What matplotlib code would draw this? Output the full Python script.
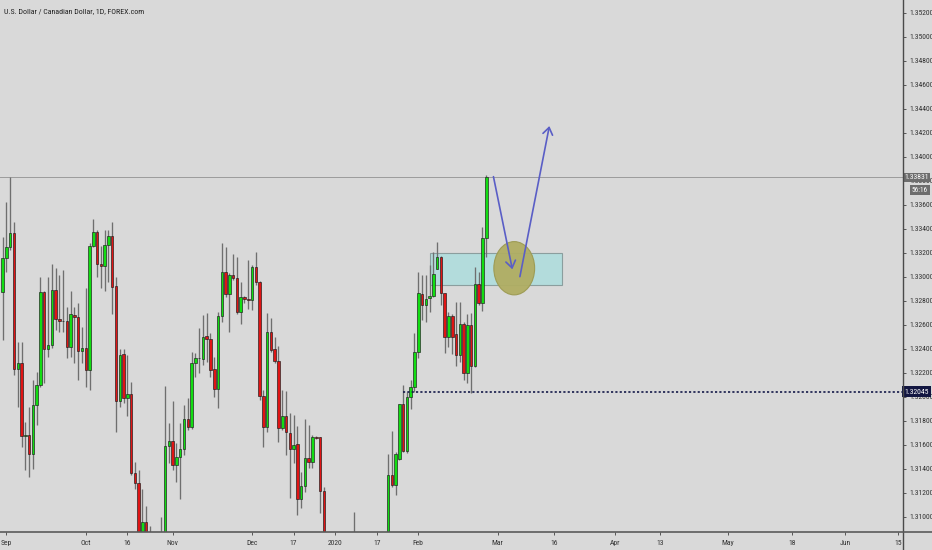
import matplotlib
matplotlib.use("Agg")
import matplotlib.pyplot as plt
import matplotlib.patches as mpatches
import matplotlib.transforms as mtransforms
from matplotlib import font_manager
from matplotlib.lines import Line2D
import numpy as np

# ---------------- data ----------------
title = "U.S. Dollar / Canadian Dollar, 1D, FOREX.com"

opens = [1.32878, 1.33156, 1.33253, 1.33364, 1.32231, 1.32281, 1.31675, 1.31681, 1.31522, 1.31931,
         1.32100, 1.32878, 1.32400, 1.32433, 1.32889, 1.32653, 1.32636, 1.32636, 1.32419, 1.32683,
         1.32669, 1.32383, 1.32406, 1.32225, 1.33258, 1.33378, 1.33106, 1.33089, 1.33264, 1.33339,
         1.32928, 1.31964, 1.32356, 1.31994, 1.32028, 1.31364, 1.31286, 1.30830, 1.30961, 1.30700,
         1.30560, 1.30480, 1.30620, 1.30700, 1.31592, 1.31636, 1.31431, 1.31503, 1.31564, 1.31819,
         1.31747, 1.32281, 1.32328, 1.32314, 1.32508, 1.32481, 1.32231, 1.32064, 1.32678, 1.33039,
         1.32858, 1.33014, 1.32989, 1.32711, 1.32831, 1.32819, 1.32808, 1.33083, 1.32961, 1.32008,
         1.31747, 1.32539, 1.32397, 1.32300, 1.31739, 1.31842, 1.31697, 1.31564, 1.31608, 1.31147,
         1.31258, 1.31489, 1.31461, 1.31664, 1.31664, 1.31219, 1.30700, 1.30450, 1.30200, 1.29900,
         1.30000, 1.29750, 1.30100, 1.30400, 1.30550, 1.30500, 1.30600, 1.30550, 1.30600, 1.30500,
         1.30650, 1.30600, 1.30700, 1.31348, 1.31264, 1.31481, 1.31939, 1.31550, 1.32000, 1.32083,
         1.32378, 1.32858, 1.32767, 1.32822, 1.32844, 1.33067, 1.33169, 1.32864, 1.32497, 1.32678,
         1.32522, 1.32350, 1.32608, 1.32203, 1.32600, 1.32261, 1.32939, 1.32786, 1.33328]
highs = [1.33336, 1.33622, 1.33833, 1.33456, 1.32461, 1.32461, 1.31794, 1.31919, 1.32142, 1.32211,
         1.33003, 1.32886, 1.33003, 1.33106, 1.33072, 1.33017, 1.33058, 1.32753, 1.32886, 1.32753,
         1.32786, 1.32586, 1.32906, 1.33281, 1.33481, 1.33392, 1.33258, 1.33392, 1.33392, 1.33461,
         1.33003, 1.32397, 1.32397, 1.32350, 1.32122, 1.31458, 1.31392, 1.31231, 1.31092, 1.30925,
         1.30700, 1.30750, 1.31003, 1.32092, 1.31781, 1.31967, 1.31614, 1.31781, 1.31931, 1.31994,
         1.32375, 1.32369, 1.32572, 1.32683, 1.32703, 1.32531, 1.32336, 1.32711, 1.33281, 1.33253,
         1.33031, 1.33189, 1.33164, 1.32961, 1.32842, 1.33142, 1.33100, 1.33211, 1.32969, 1.32058,
         1.32703, 1.32656, 1.32497, 1.32425, 1.32058, 1.32053, 1.31869, 1.31850, 1.31758, 1.31378,
         1.31814, 1.31767, 1.31683, 1.31675, 1.31669, 1.31247, 1.30800, 1.30500, 1.30250, 1.30150,
         1.30050, 1.30300, 1.30600, 1.31044, 1.30700, 1.30750, 1.30800, 1.30800, 1.30700, 1.30800,
         1.30800, 1.30850, 1.31528, 1.31714, 1.31542, 1.31944, 1.32097, 1.32040, 1.32142, 1.32536,
         1.33044, 1.33017, 1.33017, 1.33100, 1.33211, 1.33294, 1.33175, 1.32869, 1.32706, 1.32692,
         1.32789, 1.32789, 1.32628, 1.32692, 1.32697, 1.33081, 1.33044, 1.33419, 1.33850]
lows = [1.32475, 1.33044, 1.33225, 1.32183, 1.31914, 1.31586, 1.31392, 1.31336, 1.31397, 1.31767,
        1.32086, 1.32114, 1.32336, 1.32406, 1.32558, 1.32544, 1.32544, 1.32322, 1.32336, 1.32281,
        1.32142, 1.32281, 1.32086, 1.32058, 1.33253, 1.32997, 1.32906, 1.32886, 1.32961, 1.32692,
        1.31706, 1.31919, 1.31947, 1.31844, 1.31350, 1.31231, 1.30760, 1.30790, 1.30650, 1.30500,
        1.30420, 1.30420, 1.30560, 1.30650, 1.31447, 1.31392, 1.31294, 1.31147, 1.31517, 1.31725,
        1.31731, 1.32169, 1.32197, 1.32267, 1.32294, 1.32169, 1.32003, 1.31906, 1.32628, 1.32836,
        1.32544, 1.32975, 1.32692, 1.32608, 1.32781, 1.32731, 1.32725, 1.32933, 1.31975, 1.31586,
        1.31711, 1.32378, 1.32281, 1.31628, 1.31725, 1.31517, 1.31156, 1.31447, 1.31017, 1.31072,
        1.31211, 1.31406, 1.31406, 1.31650, 1.31031, 1.30650, 1.30400, 1.30100, 1.29850, 1.29700,
        1.29600, 1.29700, 1.30000, 1.30350, 1.30400, 1.30450, 1.30500, 1.30450, 1.30400, 1.30450,
        1.30500, 1.30550, 1.30650, 1.31250, 1.31181, 1.31475, 1.31542, 1.31530, 1.31903, 1.32042,
        1.32322, 1.32642, 1.32628, 1.32711, 1.32836, 1.33064, 1.32767, 1.32364, 1.32419, 1.32358,
        1.32258, 1.32294, 1.32142, 1.32119, 1.32031, 1.32253, 1.32767, 1.32719, 1.33169]
closes = [1.33156, 1.33253, 1.33364, 1.32231, 1.32281, 1.31675, 1.31681, 1.31522, 1.31931, 1.32100,
          1.32872, 1.32400, 1.32433, 1.32889, 1.32653, 1.32636, 1.32631, 1.32419, 1.32689, 1.32664,
          1.32383, 1.32406, 1.32225, 1.33258, 1.33378, 1.33106, 1.33089, 1.33264, 1.33344, 1.32919,
          1.31964, 1.32350, 1.31994, 1.32028, 1.31364, 1.31286, 1.30820, 1.30961, 1.30700, 1.30560,
          1.30480, 1.30620, 1.30700, 1.31592, 1.31636, 1.31431, 1.31503, 1.31564, 1.31819, 1.31747,
          1.32281, 1.32328, 1.32322, 1.32503, 1.32481, 1.32225, 1.32064, 1.32678, 1.33039, 1.32858,
          1.33014, 1.32989, 1.32711, 1.32831, 1.32819, 1.32808, 1.33083, 1.32956, 1.32008, 1.31747,
          1.32539, 1.32392, 1.32300, 1.31739, 1.31844, 1.31711, 1.31564, 1.31600, 1.31147, 1.31258,
          1.31489, 1.31461, 1.31664, 1.31661, 1.31219, 1.30700, 1.30450, 1.30200, 1.29900, 1.30000,
          1.29750, 1.30100, 1.30400, 1.30550, 1.30500, 1.30600, 1.30550, 1.30600, 1.30500, 1.30650,
          1.30600, 1.30700, 1.31353, 1.31264, 1.31528, 1.31939, 1.31550, 1.32000, 1.32083, 1.32378,
          1.32864, 1.32767, 1.32814, 1.32844, 1.33025, 1.33169, 1.32864, 1.32497, 1.32678, 1.32503,
          1.32350, 1.32608, 1.32203, 1.32600, 1.32261, 1.32939, 1.32781, 1.33328, 1.33831]

xtick_labels = ["Sep", "Oct", "16", "Nov", "Dec", "17", "2020", "17", "Feb",
                "Mar", "16", "Apr", "13", "May", "18", "Jun", "15"]
xtick_index = [1, 22, 33, 45, 66, 77, 88, 99, 110, 131, 146, 162, 174, 192, 209, 223, 237]

ytick_values = [1.310, 1.312, 1.314, 1.316, 1.318, 1.320, 1.322, 1.324, 1.326, 1.328, 1.330,
                1.332, 1.334, 1.336, 1.338, 1.340, 1.342, 1.344, 1.346, 1.348, 1.350, 1.352]

last_price = 1.33831
countdown = "56:16"
support_level = 1.32045
support_start = 106
zone_x = [113, 148]
zone_y = [1.32933, 1.33198]
ellipse_center = (135.4, 1.33073)
ellipse_size = (10.8, 0.00444)
arrow_down = [(129.9, 1.33836), (134.9, 1.33064)]
arrow_up = [(136.9, 1.33003), (144.7, 1.34258)]

# ---------------- style ----------------
names = {f.name for f in font_manager.fontManager.ttflist}
FONT = "DejaVu Sans"
for cand in ["Liberation Sans Narrow", "Roboto Condensed", "Liberation Sans", "DejaVu Sans"]:
    if cand in names:
        FONT = cand
        break
plt.rcParams["font.family"] = [FONT]

BG = "#d9d9d9"
GREEN = "#12dd12"
RED = "#e01414"
W, H = 932, 550
AX_R, AX_B = 903, 532
FS = 5.5

fig = plt.figure(figsize=(W / 100, H / 100), dpi=100, facecolor=BG)
ax = fig.add_axes([0, (H - AX_B) / H, AX_R / W, AX_B / H])
ax.set_facecolor(BG)
ax.set_xlim(-0.71, 238.3)
ax.set_ylim(1.30875, 1.353083)
for s in ax.spines.values():
    s.set_visible(False)

o = np.array(opens); h = np.array(highs); l = np.array(lows); c = np.array(closes)
x = np.arange(len(o))
cols = [GREEN if cc >= oo else RED for oo, cc in zip(o, c)]

# zone rectangle
ax.add_patch(mpatches.Rectangle((zone_x[0], zone_y[0]), zone_x[1] - zone_x[0], zone_y[1] - zone_y[0],
                                facecolor="#b3dcdc", edgecolor="#8b9e9e", lw=0.8, zorder=1.5))

# last price line
ax.axhline(last_price, color="#9c9c9c", lw=0.7, zorder=1)

# candles
ax.vlines(x, l, h, color="#6f6f6f", lw=0.95, zorder=2)
ax.bar(x, np.abs(c - o), bottom=np.minimum(o, c), width=0.66, color=cols,
       edgecolor="#1c1c1c", linewidth=0.45, zorder=3)

# support dotted line
ax.hlines(support_level, support_start, 238.3, colors="#151a4a", linestyles=(0, (1.3, 1.3)),
          lw=1.2, zorder=4)

# ellipse
ax.add_patch(mpatches.Ellipse(ellipse_center, ellipse_size[0], ellipse_size[1],
                              facecolor="#b0ad62", edgecolor="#9c9a52", lw=0.8, alpha=0.95, zorder=5))

# arrows
for (p0, p1) in [arrow_down, arrow_up]:
    ax.annotate("", xy=p1, xytext=p0,
                arrowprops=dict(arrowstyle="->,head_length=0.5,head_width=0.35", color="#5a5ec6",
                                lw=1.2, shrinkA=0, shrinkB=0), zorder=6)

# ticks
ax.yaxis.tick_right()
ax.set_yticks(ytick_values)
ax.set_yticklabels([f"{v:.5f}" for v in ytick_values])
ax.set_xticks(xtick_index)
ax.set_xticklabels(xtick_labels)
ax.tick_params(axis="y", direction="out", length=2, width=0.7, color="#555555", pad=2.5,
               labelsize=FS, labelcolor="#333333")
ax.tick_params(axis="x", direction="out", length=2, width=0.7, color="#555555", pad=3.5,
               labelsize=FS, labelcolor="#333333")

# axis lines across the whole figure
fig.add_artist(Line2D([AX_R / W, AX_R / W], [0, 1], transform=fig.transFigure, color="#4a4a4a", lw=1.0))
fig.add_artist(Line2D([0, 1], [(H - AX_B) / H] * 2, transform=fig.transFigure, color="#5a5a5a", lw=1.2))

# right price labels
bt = mtransforms.blended_transform_factory(fig.transFigure, ax.transData)
ax.text(916.5 / W, last_price, f"{last_price:.5f}", transform=bt, ha="center", va="center",
        fontsize=FS, color="white", zorder=10, clip_on=False,
        bbox=dict(boxstyle="square,pad=0.22", fc="#6d6d6d", ec="none"))
ax.text(916.5 / W, support_level, f"{support_level:.5f}", transform=bt, ha="center", va="center",
        fontsize=FS, color="white", zorder=10, clip_on=False,
        bbox=dict(boxstyle="square,pad=0.3", fc="#121641", ec="none"))
fig.text(920 / W, 1 - 190 / H, countdown, ha="center", va="center", fontsize=FS - 0.3, color="white",
         bbox=dict(boxstyle="square,pad=0.22", fc="#6d6d6d", ec="none"))

# title
fig.text(4 / W, 1 - 11 / H, title, ha="left", va="center", fontsize=5.7, color="#222222")

fig.savefig("out.png", dpi=100, facecolor=BG)
